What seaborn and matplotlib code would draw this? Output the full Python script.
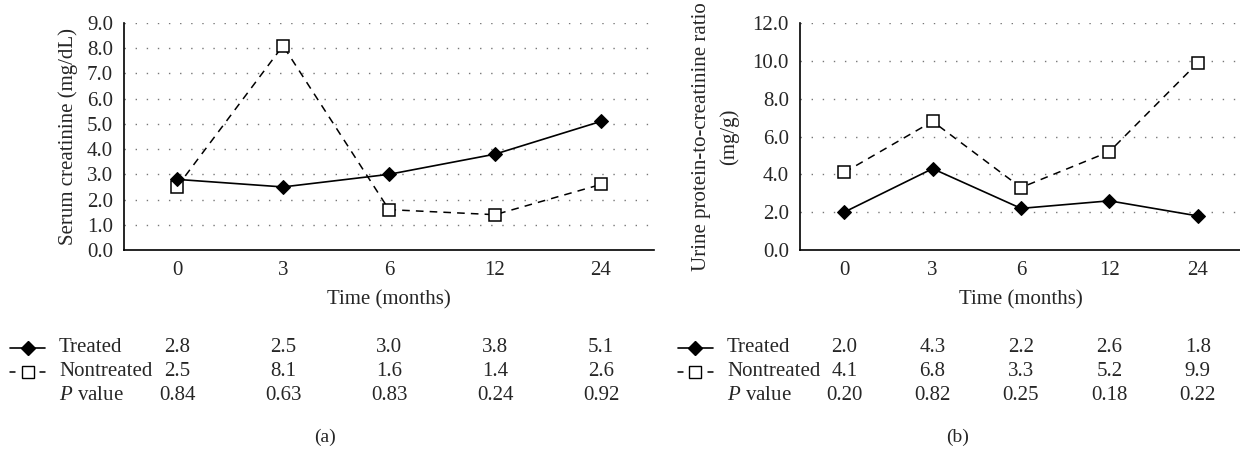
import matplotlib

matplotlib.use("Agg")
import matplotlib.pyplot as plt
import matplotlib.transforms as mtransforms
from matplotlib.lines import Line2D
import numpy as np
import pandas as pd
import seaborn as sns

months = ["0", "3", "6", "12", "24"]

creat_treated = [2.8, 2.5, 3.0, 3.8, 5.1]
creat_nontreated = [2.5, 8.1, 1.6, 1.4, 2.6]
creat_p = ["0.84", "0.63", "0.83", "0.24", "0.92"]

upcr_treated = [2.0, 4.3, 2.2, 2.6, 1.8]
upcr_nontreated = [4.1, 6.8, 3.3, 5.2, 9.9]
upcr_p = ["0.20", "0.82", "0.25", "0.18", "0.22"]

sns.set_theme(style="white")
plt.rcParams["font.family"] = ["Liberation Serif", "DejaVu Serif"]
plt.rcParams["mathtext.fontset"] = "custom"
plt.rcParams["mathtext.rm"] = "Liberation Serif"
plt.rcParams["mathtext.it"] = "Liberation Serif:italic"

FS = 15
W, H = 1240, 455

fig = plt.figure(figsize=(12.4, 4.55), dpi=100)
ax_a = fig.add_axes([124 / W, 1 - 250 / H, 530 / W, 227 / H])
ax_b = fig.add_axes([800 / W, 1 - 250 / H, 442 / W, 227 / H])


def draw_panel(ax, treated, nontreated, pvals, ymax, ystep, ylabel, ypad, label_x, tag, tag_x):
    idx = np.arange(len(months))
    frame = pd.DataFrame({"x": idx, "treated": treated, "nontreated": nontreated})
    sns.lineplot(data=frame, x="x", y="nontreated", ax=ax, color="black", lw=1.1,
                 linestyle=(0, (5, 4)), marker="s", markersize=8,
                 markerfacecolor="white", markeredgecolor="black", markeredgewidth=1.1)
    sns.lineplot(data=frame, x="x", y="treated", ax=ax, color="black", lw=1.2,
                 marker="D", markersize=7.5, markerfacecolor="black",
                 markeredgecolor="black")
    ax.set_xlim(-0.5, len(months) - 0.5)
    ax.set_ylim(0, ymax)
    yt = np.arange(0, ymax + ystep / 2, ystep)
    ax.set_yticks(yt)
    ax.set_yticklabels([f"{v:.1f}" for v in yt], fontsize=FS)
    ax.set_xticks(idx)
    ax.set_xticklabels(months, fontsize=FS)
    ax.tick_params(axis="y", length=0, pad=8)
    ax.tick_params(axis="x", length=0, pad=8)
    for v in yt[1:]:
        ax.axhline(v, color="#777777", lw=1.0, linestyle=(0, (1, 7)), zorder=0)
    for side in ("top", "right"):
        ax.spines[side].set_visible(False)
    for side in ("left", "bottom"):
        ax.spines[side].set_color("black")
        ax.spines[side].set_linewidth(1.2)
    ax.set_xlabel("Time (months)", fontsize=FS, labelpad=7)
    ax.set_ylabel(ylabel, fontsize=FS, linespacing=1.55, labelpad=ypad)
    ax.set_facecolor("none")

    # table under the axis
    trans = mtransforms.blended_transform_factory(ax.transData, fig.transFigure)
    rows_y = [1 - 348 / H, 1 - 372 / H, 1 - 395 / H]
    names = ["Treated", "Nontreated", "$P$ value"]
    cols = [[f"{v:.1f}" for v in treated], [f"{v:.1f}" for v in nontreated], pvals]
    for ry, name, col in zip(rows_y, names, cols):
        fig.text(label_x / W, ry, name, fontsize=FS, ha="left", va="center")
        for i, txt in enumerate(col):
            fig.text(idx[i], ry, txt, fontsize=FS, ha="center", va="center", transform=trans)

    # legend keys
    kx0, kx1 = (label_x - 49) / W, (label_x - 14) / W
    kmid = (kx0 + kx1) / 2
    fig.add_artist(Line2D([kx0, kx1], [rows_y[0]] * 2, color="black", lw=1.2))
    fig.add_artist(Line2D([kmid], [rows_y[0]], marker="D", markersize=7,
                          color="black", lw=0))
    d = 5 / W
    for a, b in ((kx0, kx0 + d), (kx1 - d, kx1)):
        fig.add_artist(Line2D([a, b], [rows_y[1]] * 2, color="black", lw=1.1))
    fig.add_artist(Line2D([kmid], [rows_y[1]], marker="s", markersize=8,
                          markerfacecolor="white", markeredgecolor="black", lw=0))

    fig.text(tag_x / W, 1 - 437 / H, tag, fontsize=FS - 1, ha="center", va="center")


draw_panel(ax_a, creat_treated, creat_nontreated, creat_p, 9.0, 1.0,
           "Serum creatinine (mg/dL)", 6, 59, "(a)", 325)
draw_panel(ax_b, upcr_treated, upcr_nontreated, upcr_p, 12.0, 2.0,
           "Urine protein-to-creatinine ratio\n(mg/g)", 10, 727, "(b)", 958)

fig.savefig("out.png", dpi=100)
